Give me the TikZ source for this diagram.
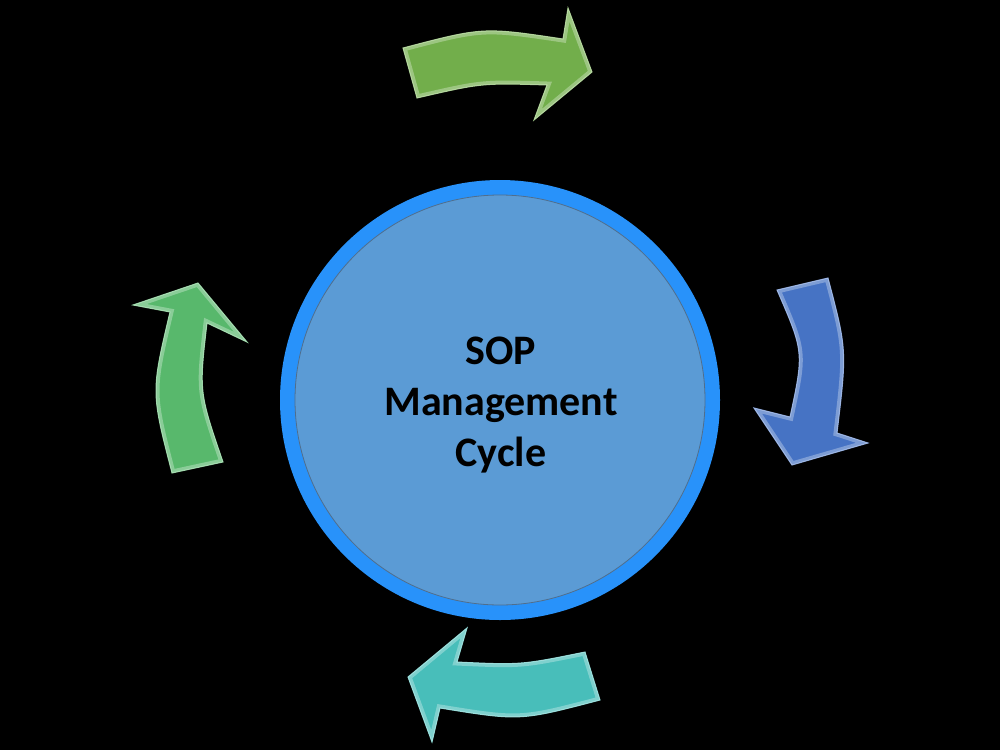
\documentclass[tikz,border=0pt]{standalone}
\usepackage{fontspec}
\setmainfont{Carlito}
\begin{document}
\begin{tikzpicture}[x=1pt,y=-1pt,
  arrowbody/.style={fill=#1, draw=#1!65!white, line width=1pt, line join=miter},
  bevel/.style={draw=white, opacity=0.3, line width=7pt},
  ring/.style={circle, fill=ringblue, minimum size=440pt, inner sep=0pt},
  hubfill/.style={circle, fill=hubblue, draw=hubedge, line width=0.8pt, minimum size=410pt, inner sep=0pt},
  hubtext/.style={font=\bfseries\fontsize{42}{51}\selectfont, align=center, text=black}]
\definecolor{ringblue}{RGB}{40,146,250}
\definecolor{hubblue}{RGB}{91,155,213}
\definecolor{hubedge}{RGB}{80,110,140}
\definecolor{topgreen}{RGB}{114,174,75}
\definecolor{arrblue}{RGB}{70,115,196}
\definecolor{arrteal}{RGB}{72,190,186}
\definecolor{leftgreen}{RGB}{88,184,108}
\fill[black] (0,0) rectangle (1000,750);
\useasboundingbox (0,0) rectangle (1000,750);
% paths
\def\pathtop{(403,48) .. controls (483,27) .. (563,39) -- (568,8) -- (592,72) -- (534,120) -- (547,85) .. controls (482,83) .. (417,98) -- cycle}
\def\pathright{(777,290) -- (828,278) .. controls (847,350) .. (837,433) -- (868,443) -- (792,465) -- (754,408) -- (790,417) .. controls (804,352) .. (777,290) -- cycle}
\def\pathbottom{(585,652) -- (600,700) .. controls (520,721) .. (440,708) -- (432,742) -- (408,677) -- (467,628) -- (457,662) .. controls (521,665) .. (585,652) -- cycle}
\def\pathleft{(172,473) .. controls (151,392) .. (170,312) -- (133,305) -- (198,283) -- (247,342) -- (207,323) .. controls (199,392) .. (223,462) -- cycle}
% arrows
\foreach \p/\c in {\pathtop/topgreen,\pathright/arrblue,\pathbottom/arrteal,\pathleft/leftgreen}{
  \path[arrowbody=\c] \p;
  \begin{scope}
    \clip \p;
    \draw[bevel] \p;
  \end{scope}
}
% hub
\node[ring] (ring) at (500,400) {};
\node[hubfill] (hub) at (500,400) {};
\node[hubtext] (label) at (501,405) {SOP\\Management\\Cycle};
\end{tikzpicture}
\end{document}
